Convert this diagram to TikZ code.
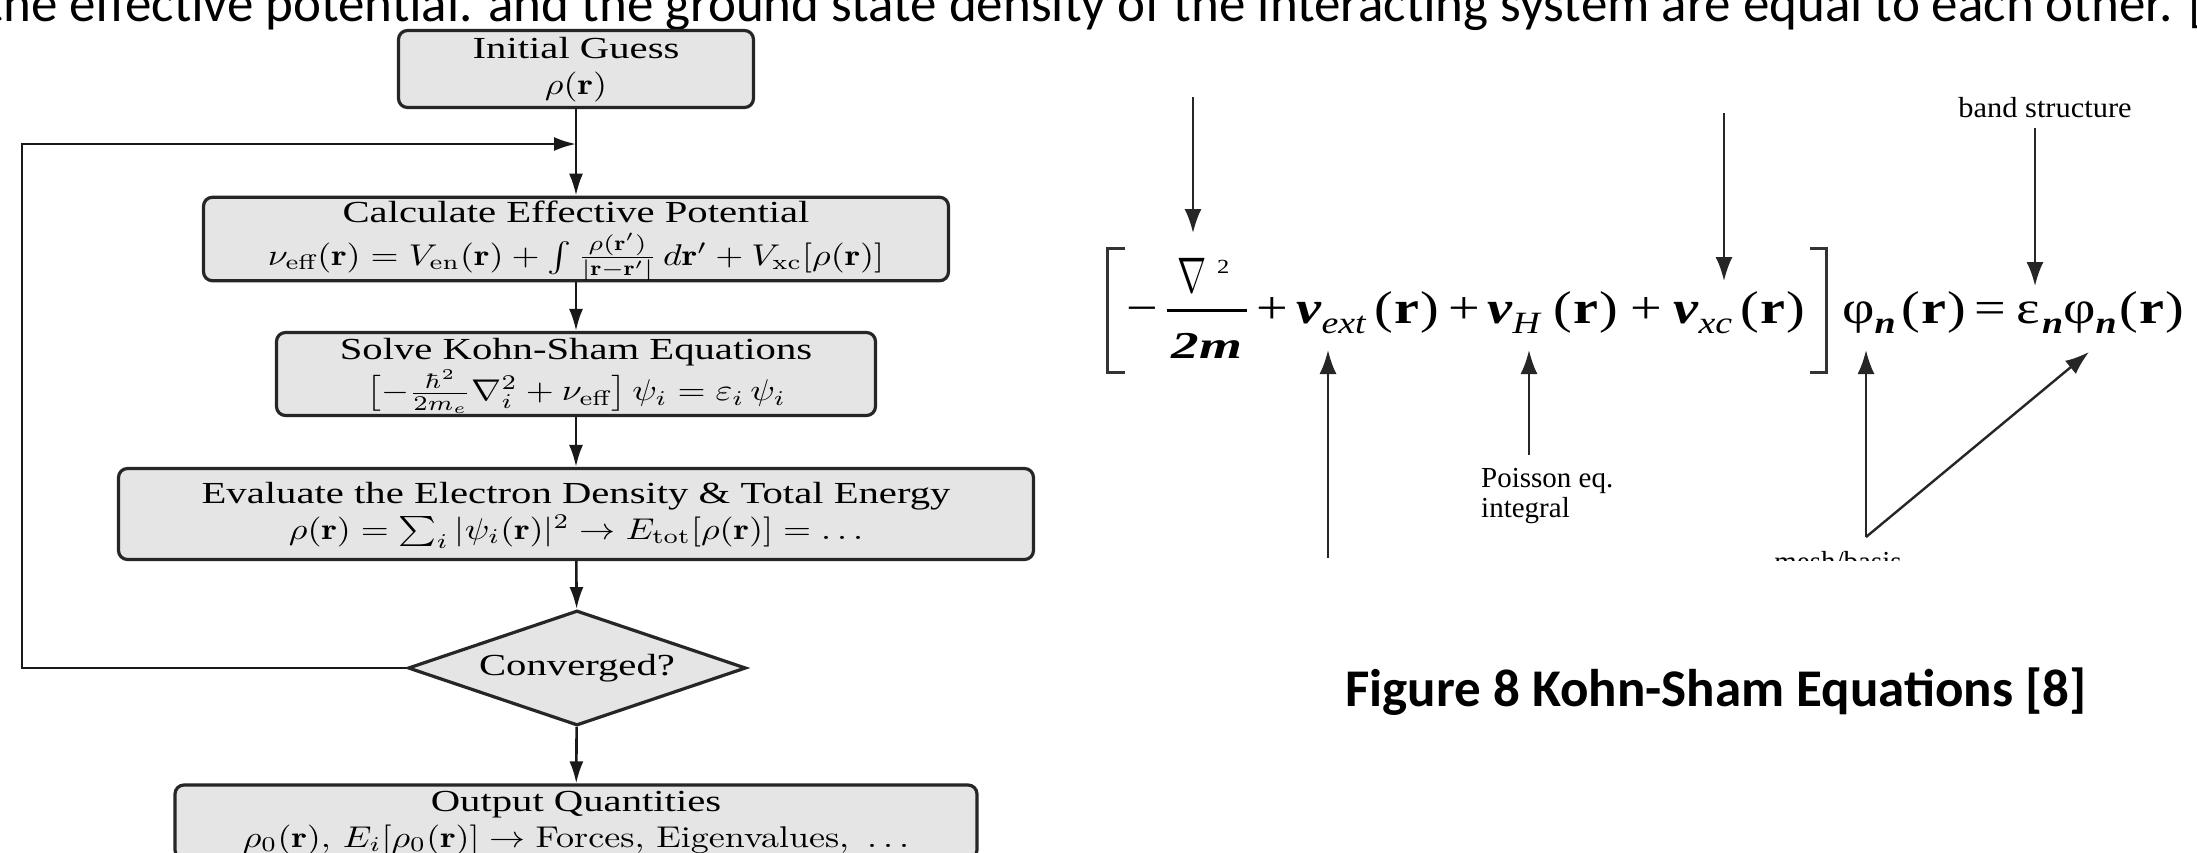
\documentclass[tikz,border=0pt]{standalone}
\usepackage{amsmath}
\usepackage{fontspec}
\usepackage{graphicx}
\usetikzlibrary{arrows.meta,shapes.geometric}
\newfontfamily\slidefont{Carlito}
\newfontfamily\eqfont{Liberation Serif}
% flowchart text: set at 10pt, then stretched to the printed size
\newcommand\ttl[1]{\scalebox{1.13}[1.02]{\eqfont #1}}
\newcommand\flow[2]{\scalebox{3.6}[3]{\begin{tabular}{@{}c@{}}\ttl{#1}\\#2\end{tabular}}}
\newcommand\flowone[1]{\scalebox{3.6}[3]{\ttl{#1}}}
% right-hand equation pieces
\newcommand\eqmain{\eqfont\fontsize{46}{50}\selectfont}
\newcommand\eqx[1]{\scalebox{1.22}[1]{#1}}
\newcommand\eqsub[1]{\raisebox{-10pt}{\fontsize{31}{33}\selectfont\itshape #1}}
\newcommand\eqbsub[1]{\raisebox{-10pt}{\fontsize{31}{33}\selectfont\bfseries\itshape #1}}
\newcommand\eqr{(\kern1pt\textbf{r}\kern1pt)}
\newcommand\eqv{\textbf{\textit{v}}}
\newcommand\labfont{\eqfont\fontsize{29}{31}\selectfont}

\begin{document}
\begin{tikzpicture}[x=1pt,y=-1pt,
  box/.style={draw=black!85,line width=3.2pt,fill=black!10,rounded corners=9pt,align=center,inner sep=0pt},
  test/.style={draw=black!85,line width=3.2pt,fill=black!10,shape=diamond,aspect=2.9,inner sep=0pt},
  flowline/.style={line width=2.6pt,draw=black!90,-{Latex[length=22pt,width=14pt]}},
  pointer/.style={line width=2.4pt,draw=black!85,-{Latex[length=24pt,width=17pt]}},
  brk/.style={line width=3pt,draw=black!80},
  eqpart/.style={inner sep=0pt,anchor=base west,font=\eqmain},
  eqop/.style={inner sep=0pt,anchor=base,font=\eqmain},
  lab/.style={inner sep=0pt,anchor=base west,font=\labfont}]

\useasboundingbox (0,0) rectangle (2197,852);
\fill[white] (0,0) rectangle (2197,852);
\begin{scope}
\clip (0,0) rectangle (2197,852);

% running slide text
\node[inner sep=0pt,anchor=base east,font=\slidefont\fontsize{53}{60}\selectfont] (body) at (2205,21)
  {the effective potential. and the ground state density of the interacting system are equal to each other. [};

% ---------------- self-consistent cycle ----------------
\node[box,minimum width=355pt,minimum height=77pt] (init) at (576,69)
  {\flow{Initial Guess}{$\rho(\mathbf{r})$}};
\node[box,minimum width=745pt,minimum height=82pt] (calc) at (576,239)
  {\flow{Calculate Effective Potential}
   {$\nu_{\text{eff}}(\mathbf{r}) = V_{\text{en}}(\mathbf{r}) + \int\frac{\rho(\mathbf{r}')}{|\mathbf{r}-\mathbf{r}'|}\,d\mathbf{r}' + V_{\text{xc}}[\rho(\mathbf{r})]$}};
\node[box,minimum width=599pt,minimum height=83pt] (solve) at (576,374)
  {\flow{Solve Kohn-Sham Equations}
   {$\bigl[-\frac{\hbar^2}{2m_e}\nabla_i^2+\nu_{\text{eff}}\bigr]\,\psi_i=\varepsilon_i\,\psi_i$}};
\node[box,minimum width=915pt,minimum height=91pt] (eval) at (576,514)
  {\flow{Evaluate the Electron Density \& Total Energy}
   {$\rho(\mathbf{r})=\sum_i|\psi_i(\mathbf{r})|^2\rightarrow E_{\text{tot}}[\rho(\mathbf{r})]=\ldots$}};
\node[test,minimum width=338pt,minimum height=115pt] (conv) at (577,668) {\flowone{Converged?}};
\node[box,minimum width=802pt,minimum height=74pt] (out) at (576,822)
  {\flow{Output Quantities}
   {$\rho_0(\mathbf{r}),\,E_i[\rho_0(\mathbf{r})]\rightarrow\text{Forces, Eigenvalues, }\ldots$}};

\draw[flowline] (init) -- (calc);
\draw[flowline] (calc) -- (solve);
\draw[flowline] (solve) -- (eval);
\draw[flowline] (eval) -- (conv);
\draw[flowline] (conv) -- (out);
\coordinate (loopc) at (22,668);
\coordinate (join) at (576,144);
\draw[flowline] (conv.west) -- (loopc) |- (join);

% ---------------- Kohn-Sham equation ----------------
\draw[brk] (1125,248) -- (1107,248) -- (1107,372) -- (1125,372);
\draw[brk] (1810,248) -- (1826,248) -- (1826,372) -- (1810,372);
\node[eqop] (minus) at (1142,323) {\eqx{−}};
\node[inner sep=0pt,anchor=base] (nabla) at (1192,292) {\scalebox{3.5}[5]{$\nabla$}};
\node[inner sep=0pt,anchor=base west,font=\eqfont\fontsize{20}{22}\selectfont] (sq) at (1217,273) {\eqx{2}};
\draw[line width=3pt] (1167,310) -- (1247,310);
\node[inner sep=0pt,anchor=base] (den) at (1207,358)
  {\scalebox{1.45}[1]{\eqfont\fontsize{38}{40}\selectfont\bfseries\itshape 2m}};
\node[eqop] (plusA) at (1272,323) {\eqx{+}};
\node[eqpart] (vext) at (1296,323) {\eqx{\eqv\eqsub{ext}\kern7pt\eqr}};
\node[eqop] (plusB) at (1464,323) {\eqx{+}};
\node[eqpart] (vh) at (1487,323) {\eqx{\eqv\eqsub{H}\kern11pt\eqr}};
\node[eqop] (plusC) at (1646,323) {\eqx{+}};
\node[eqpart] (vxc) at (1673,323) {\eqx{\eqv\eqsub{xc}\kern7pt\eqr}};
\node[eqpart] (phil) at (1842,323) {\eqx{φ\eqbsub{n}\kern5pt\eqr}};
\node[eqop] (equal) at (1990,323) {\eqx{=}};
\node[eqpart] (phir) at (2016,323) {\eqx{ε\kern2pt\eqbsub{n}φ\eqbsub{n}\kern2pt\eqr}};

% annotations
\coordinate (kinTop) at (1193,97);  \coordinate (kinTip) at (1193,233);
\draw[pointer] (kinTop) -- (kinTip);
\coordinate (xcTop) at (1724,113);  \coordinate (xcTip) at (1724,281);
\draw[pointer] (xcTop) -- (xcTip);
\node[inner sep=0pt,anchor=base,font=\labfont] (band) at (2045,117) {\scalebox{1.05}[1]{band structure}};
\coordinate (bandTop) at (2035,128); \coordinate (bandTip) at (2035,286);
\draw[pointer] (bandTop) -- (bandTip);
\coordinate (extFoot) at (1328,558); \coordinate (extTip) at (1328,350);
\draw[pointer] (extFoot) -- (extTip);
\coordinate (hFoot) at (1529,455); \coordinate (hTip) at (1529,350);
\draw[pointer] (hFoot) -- (hTip);
\node[lab] (pois) at (1481,487) {Poisson eq.};
\node[lab] (integ) at (1481,517) {integral};
\coordinate (vtx) at (1866,537); \coordinate (phiTip) at (1866,350); \coordinate (epsTip) at (2089,352);
\draw[pointer] (vtx) -- (phiTip);
\draw[pointer] (vtx) -- (epsTip);
\begin{scope}
  \clip (1080,60) rectangle (2197,560);
  \node[inner sep=0pt,anchor=base,font=\labfont] (mesh) at (1838,571) {mesh/basis};
\end{scope}

% caption
\node[inner sep=0pt,anchor=base,font=\slidefont\bfseries\fontsize{53}{60}\selectfont] (cap) at (1716,706)
  {Figure 8 Kohn-Sham Equations [8]};
\end{scope}
\end{tikzpicture}
\end{document}
